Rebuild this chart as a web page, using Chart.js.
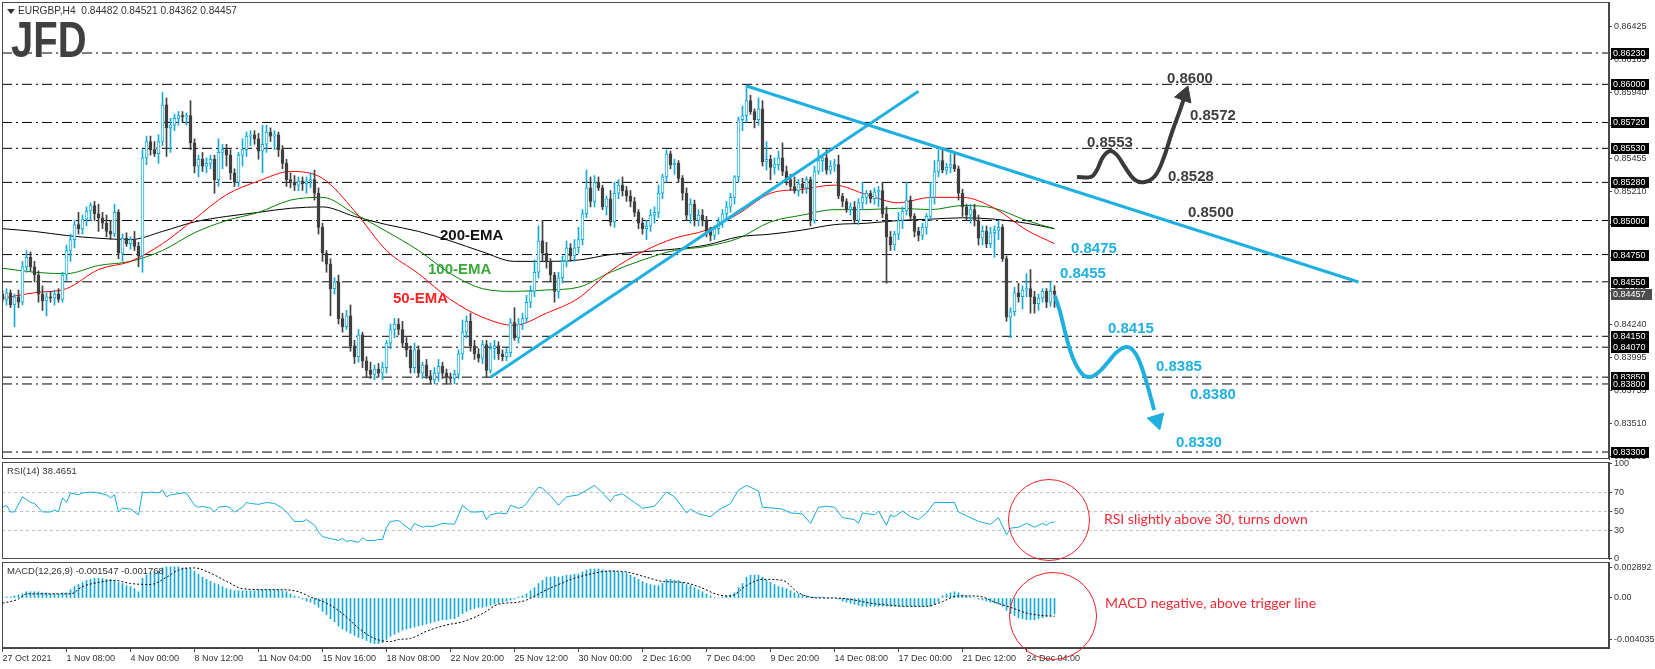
<!DOCTYPE html>
<html>
<head>
<meta charset="utf-8">
<title>EURGBP H4</title>
<script src="https://cdn.jsdelivr.net/npm/chart.js"></script>
<style>
  html, body { margin: 0; padding: 0; background: #fff; }
  body { width: 1655px; height: 669px; position: relative; overflow: hidden; font-family: 'Liberation Sans', Arial, sans-serif; }
  canvas { position: absolute; left: 0; }
  .t { position: absolute; white-space: nowrap; line-height: 18px; }
  .lvl { font: bold 15px 'Liberation Sans', Arial, sans-serif; }
  .dark { color: #3f3f3f; }
  .blue { color: #1fb0e0; }
  .note { font: 14px Lato, sans-serif; color: #ee2a35; }
  .ring { position: absolute; border: 1px solid #e8202a; border-radius: 50%; }
  .small { position: absolute; white-space: nowrap; font: 9.5px 'Liberation Sans', Arial, sans-serif; color: #333; line-height: 12px; }
</style>
</head>
<body>
<canvas id="mainChart" width="1655" height="461" style="top:0;width:1655px;height:461px"></canvas>
<canvas id="rsiChart" width="1655" height="114" style="top:452px;width:1655px;height:114px"></canvas>
<canvas id="macdChart" width="1655" height="109" style="top:560px;width:1655px;height:109px"></canvas>

<div style="position:absolute;left:7px;top:9px;width:0;height:0;border-left:4px solid transparent;border-right:4px solid transparent;border-top:5px solid #333"></div>
<div class="small" style="left:18px;top:5px;font-size:10.2px">EURGBP,H4&nbsp; 0.84482 0.84521 0.84362 0.84457</div>
<div class="t" style="left:11px;top:15px;font:bold 50px 'Liberation Sans',Arial,sans-serif;line-height:50px;color:#404040;transform:scaleX(0.8);transform-origin:left top">JFD</div>
<div class="small" style="left:7px;top:465px">RSI(14) 38.4651</div>
<div class="small" style="left:7px;top:565px">MACD(12,26,9) -0.001547 -0.001768</div>

<div class="t lvl" style="left:440px;top:226px;color:#111">200-EMA</div>
<div class="t lvl" style="left:428px;top:260px;color:#3aa83a">100-EMA</div>
<div class="t lvl" style="left:393px;top:289px;color:#ff2222">50-EMA</div>

<div class="t lvl dark" style="left:1167px;top:69px">0.8600</div>
<div class="t lvl dark" style="left:1190px;top:106px">0.8572</div>
<div class="t lvl dark" style="left:1087px;top:133px">0.8553</div>
<div class="t lvl dark" style="left:1168px;top:167px">0.8528</div>
<div class="t lvl dark" style="left:1188px;top:203px">0.8500</div>
<div class="t lvl blue" style="left:1071px;top:239px">0.8475</div>
<div class="t lvl blue" style="left:1060px;top:264px">0.8455</div>
<div class="t lvl blue" style="left:1108px;top:319px">0.8415</div>
<div class="t lvl blue" style="left:1156px;top:357px">0.8385</div>
<div class="t lvl blue" style="left:1190px;top:385px">0.8380</div>
<div class="t lvl blue" style="left:1176px;top:433px">0.8330</div>

<div class="ring" style="left:1008px;top:479px;width:80px;height:80px"></div>
<div class="ring" style="left:1009px;top:572px;width:86px;height:86px"></div>
<div class="t note" style="left:1104px;top:510px">RSI slightly above 30, turns down</div>
<div class="t note" style="left:1105px;top:594px">MACD negative, above trigger line</div>

<script>
// ---- candles (EURGBP H4), one entry per bar ----
const open = [
  0.8446,0.8442,0.8447,0.8438,0.8444,0.8440,0.8466,0.8473,0.8466,0.8460,
  0.8446,0.8441,0.8444,0.8443,0.8446,0.8442,0.8460,0.8478,0.8486,0.8497,
  0.8494,0.8501,0.8507,0.8511,0.8505,0.8502,0.8498,0.8492,0.8490,0.8506,
  0.8476,0.8487,0.8483,0.8486,0.8481,0.8474,0.8546,0.8558,0.8552,0.8549,
  0.8558,0.8585,0.8568,0.8570,0.8575,0.8577,0.8576,0.8577,0.8557,0.8540,
  0.8545,0.8540,0.8542,0.8545,0.8530,0.8550,0.8552,0.8548,0.8535,0.8528,
  0.8548,0.8552,0.8562,0.8563,0.8560,0.8551,0.8556,0.8565,0.8562,0.8563,
  0.8552,0.8542,0.8530,0.8528,0.8526,0.8529,0.8527,0.8529,0.8530,0.8520,
  0.8495,0.8476,0.8468,0.8450,0.8455,0.8428,0.8422,0.8430,0.8408,0.8400,
  0.8416,0.8397,0.8390,0.8387,0.8391,0.8388,0.8392,0.8410,0.8420,0.8424,
  0.8420,0.8410,0.8405,0.8392,0.8405,0.8388,0.8394,0.8386,0.8383,0.8388,
  0.8393,0.8388,0.8385,0.8384,0.8387,0.8402,0.8418,0.8426,0.8408,0.8402,
  0.8399,0.8409,0.8390,0.8406,0.8408,0.8402,0.8400,0.8403,0.8425,0.8414,
  0.8424,0.8428,0.8440,0.8448,0.8462,0.8485,0.8476,0.8470,0.8460,0.8448,
  0.8458,0.8470,0.8480,0.8474,0.8480,0.8486,0.8505,0.8524,0.8514,0.8528,
  0.8524,0.8510,0.8516,0.8499,0.8520,0.8526,0.8522,0.8518,0.8514,0.8506,
  0.8498,0.8494,0.8496,0.8504,0.8506,0.8520,0.8532,0.8549,0.8541,0.8542,
  0.8531,0.8520,0.8504,0.8512,0.8500,0.8504,0.8500,0.8492,0.8489,0.8494,
  0.8499,0.8505,0.8510,0.8517,0.8532,0.8574,0.8577,0.8588,0.8580,0.8574,
  0.8582,0.8543,0.8545,0.8539,0.8541,0.8546,0.8536,0.8530,0.8525,0.8522,
  0.8527,0.8524,0.8530,0.8500,0.8536,0.8544,0.8546,0.8537,0.8540,0.8541,
  0.8518,0.8514,0.8508,0.8510,0.8500,0.8513,0.8517,0.8520,0.8516,0.8521,
  0.8522,0.8505,0.8488,0.8482,0.8490,0.8500,0.8507,0.8515,0.8503,0.8492,
  0.8489,0.8495,0.8503,0.8517,0.8536,0.8544,0.8537,0.8539,0.8541,0.8538,
  0.8520,0.8510,0.8504,0.8508,0.8500,0.8487,0.8492,0.8483,0.8491,0.8493,
  0.8495,0.8472,0.8429,0.8433,0.8447,0.8444,0.8449,0.8450,0.8444,0.8439,
  0.8443,0.8448,0.8440,0.84482
];
const high = [
  0.8449,0.8450,0.8449,0.8446,0.8449,0.8470,0.8478,0.8477,0.8470,0.8463,
  0.8452,0.8447,0.8448,0.8449,0.8450,0.8462,0.8482,0.8490,0.8500,0.8506,
  0.8504,0.8510,0.8513,0.8514,0.8512,0.8506,0.8504,0.8500,0.8512,0.8508,
  0.8490,0.8491,0.8488,0.8492,0.8484,0.8552,0.8562,0.8562,0.8558,0.8563,
  0.8594,0.8590,0.8575,0.8578,0.8580,0.8580,0.8579,0.8588,0.8560,0.8548,
  0.8550,0.8546,0.8548,0.8548,0.8560,0.8556,0.8556,0.8552,0.8538,0.8550,
  0.8560,0.8565,0.8566,0.8566,0.8564,0.8570,0.8570,0.8568,0.8566,0.8565,
  0.8555,0.8545,0.8535,0.8533,0.8532,0.8532,0.8532,0.8535,0.8537,0.8524,
  0.8498,0.8478,0.8472,0.8458,0.8460,0.8432,0.8434,0.8438,0.8412,0.8420,
  0.8418,0.8400,0.8396,0.8394,0.8395,0.8396,0.8412,0.8424,0.8428,0.8428,
  0.8426,0.8414,0.8408,0.8410,0.8408,0.8396,0.8398,0.8390,0.8392,0.8398,
  0.8396,0.8391,0.8388,0.8390,0.8405,0.8427,0.8430,0.8432,0.8412,0.8406,
  0.8412,0.8412,0.8410,0.8412,0.8411,0.8405,0.8406,0.8428,0.8436,0.8428,
  0.8432,0.8445,0.8452,0.8471,0.8496,0.8500,0.8484,0.8472,0.8462,0.8462,
  0.8474,0.8485,0.8483,0.8486,0.8495,0.8508,0.8537,0.8532,0.8533,0.8532,
  0.8526,0.8518,0.8522,0.8528,0.8530,0.8532,0.8525,0.8522,0.8517,0.8508,
  0.8502,0.8500,0.8508,0.8510,0.8526,0.8534,0.8552,0.8551,0.8545,0.8544,
  0.8533,0.8524,0.8516,0.8515,0.8508,0.8508,0.8503,0.8495,0.8496,0.8502,
  0.8508,0.8514,0.8520,0.8533,0.8576,0.8584,0.8599,0.8592,0.8582,0.8590,
  0.8588,0.8558,0.8548,0.8546,0.8551,0.8557,0.8540,0.8534,0.8532,0.8530,
  0.8531,0.8532,0.8532,0.8540,0.8552,0.8548,0.8552,0.8544,0.8545,0.8548,
  0.8520,0.8516,0.8513,0.8514,0.8516,0.8528,0.8522,0.8522,0.8524,0.8525,
  0.8528,0.8510,0.8492,0.8492,0.8506,0.8510,0.8528,0.8518,0.8505,0.8495,
  0.8498,0.8505,0.8528,0.8544,0.8552,0.8552,0.8542,0.8549,0.8550,0.8540,
  0.8523,0.8512,0.8512,0.8512,0.8504,0.8496,0.8496,0.8495,0.8496,0.8500,
  0.8497,0.8474,0.8436,0.8451,0.8454,0.8452,0.8461,0.8464,0.8448,0.8446,
  0.8450,0.8450,0.8455,0.84521
];
const low = [
  0.8440,0.8438,0.8436,0.8422,0.8436,0.8438,0.8462,0.8463,0.8455,0.8440,
  0.8434,0.8430,0.8440,0.8438,0.8440,0.8440,0.8456,0.8470,0.8480,0.8490,
  0.8490,0.8496,0.8500,0.8500,0.8492,0.8494,0.8488,0.8486,0.8488,0.8472,
  0.8470,0.8481,0.8479,0.8478,0.8466,0.8462,0.8541,0.8548,0.8547,0.8542,
  0.8555,0.8547,0.8550,0.8566,0.8570,0.8572,0.8570,0.8552,0.8535,0.8532,
  0.8536,0.8535,0.8538,0.8520,0.8525,0.8538,0.8540,0.8530,0.8525,0.8525,
  0.8540,0.8547,0.8555,0.8556,0.8545,0.8535,0.8550,0.8558,0.8552,0.8547,
  0.8538,0.8525,0.8524,0.8522,0.8522,0.8522,0.8520,0.8524,0.8515,0.8490,
  0.8470,0.8462,0.8430,0.8446,0.8424,0.8418,0.8420,0.8404,0.8395,0.8396,
  0.8392,0.8385,0.8384,0.8383,0.8385,0.8383,0.8388,0.8406,0.8414,0.8416,
  0.8407,0.8400,0.8388,0.8388,0.8385,0.8384,0.8384,0.8380,0.8380,0.8382,
  0.8384,0.8380,0.8381,0.8380,0.8384,0.8398,0.8414,0.8404,0.8398,0.8396,
  0.8395,0.8385,0.8388,0.8398,0.8398,0.8397,0.8397,0.8400,0.8412,0.8410,
  0.8420,0.8425,0.8436,0.8444,0.8458,0.8470,0.8465,0.8455,0.8440,0.8443,
  0.8454,0.8466,0.8470,0.8470,0.8476,0.8482,0.8502,0.8510,0.8510,0.8522,
  0.8508,0.8504,0.8496,0.8495,0.8516,0.8518,0.8514,0.8510,0.8503,0.8494,
  0.8490,0.8486,0.8492,0.8498,0.8502,0.8516,0.8528,0.8538,0.8534,0.8528,
  0.8515,0.8500,0.8498,0.8496,0.8496,0.8496,0.8488,0.8485,0.8486,0.8490,
  0.8495,0.8500,0.8506,0.8512,0.8528,0.8566,0.8572,0.8578,0.8568,0.8570,
  0.8540,0.8537,0.8530,0.8534,0.8537,0.8533,0.8526,0.8522,0.8520,0.8518,
  0.8520,0.8520,0.8496,0.8498,0.8534,0.8536,0.8534,0.8534,0.8536,0.8516,
  0.8510,0.8506,0.8504,0.8498,0.8497,0.8508,0.8512,0.8513,0.8512,0.8510,
  0.8502,0.8454,0.8478,0.8478,0.8486,0.8494,0.8504,0.8500,0.8488,0.8485,
  0.8486,0.8490,0.8500,0.8512,0.8532,0.8535,0.8534,0.8535,0.8536,0.8515,
  0.8503,0.8500,0.8498,0.8496,0.8482,0.8482,0.8480,0.8480,0.8473,0.8486,
  0.8470,0.8426,0.8414,0.8430,0.8440,0.8435,0.8444,0.8432,0.8432,0.8434,
  0.8440,0.8436,0.8437,0.84362
];
const close = [
  0.8442,0.8447,0.8438,0.8444,0.8440,0.8466,0.8473,0.8466,0.8460,0.8446,
  0.8441,0.8444,0.8443,0.8446,0.8442,0.8460,0.8478,0.8486,0.8497,0.8494,
  0.8501,0.8507,0.8511,0.8505,0.8502,0.8498,0.8492,0.8490,0.8506,0.8476,
  0.8487,0.8483,0.8486,0.8481,0.8474,0.8546,0.8558,0.8552,0.8549,0.8558,
  0.8585,0.8568,0.8570,0.8575,0.8577,0.8576,0.8577,0.8557,0.8540,0.8545,
  0.8540,0.8542,0.8545,0.8530,0.8550,0.8552,0.8548,0.8535,0.8528,0.8548,
  0.8552,0.8562,0.8563,0.8560,0.8551,0.8556,0.8565,0.8562,0.8563,0.8552,
  0.8542,0.8530,0.8528,0.8526,0.8529,0.8527,0.8529,0.8530,0.8520,0.8495,
  0.8476,0.8468,0.8450,0.8455,0.8428,0.8422,0.8430,0.8408,0.8400,0.8416,
  0.8397,0.8390,0.8387,0.8391,0.8388,0.8392,0.8410,0.8420,0.8424,0.8420,
  0.8410,0.8405,0.8392,0.8405,0.8388,0.8394,0.8386,0.8383,0.8388,0.8393,
  0.8388,0.8385,0.8384,0.8387,0.8402,0.8418,0.8426,0.8408,0.8402,0.8399,
  0.8409,0.8390,0.8406,0.8408,0.8402,0.8400,0.8403,0.8425,0.8414,0.8424,
  0.8428,0.8440,0.8448,0.8462,0.8485,0.8476,0.8470,0.8460,0.8448,0.8458,
  0.8470,0.8480,0.8474,0.8480,0.8486,0.8505,0.8524,0.8514,0.8528,0.8524,
  0.8510,0.8516,0.8499,0.8520,0.8526,0.8522,0.8518,0.8514,0.8506,0.8498,
  0.8494,0.8496,0.8504,0.8506,0.8520,0.8532,0.8549,0.8541,0.8542,0.8531,
  0.8520,0.8504,0.8512,0.8500,0.8504,0.8500,0.8492,0.8489,0.8494,0.8499,
  0.8505,0.8510,0.8517,0.8532,0.8574,0.8577,0.8588,0.8580,0.8574,0.8582,
  0.8543,0.8545,0.8539,0.8541,0.8546,0.8536,0.8530,0.8525,0.8522,0.8527,
  0.8524,0.8530,0.8500,0.8536,0.8544,0.8546,0.8537,0.8540,0.8541,0.8518,
  0.8514,0.8508,0.8510,0.8500,0.8513,0.8517,0.8520,0.8516,0.8521,0.8522,
  0.8505,0.8488,0.8482,0.8490,0.8500,0.8507,0.8515,0.8503,0.8492,0.8489,
  0.8495,0.8503,0.8517,0.8536,0.8544,0.8537,0.8539,0.8541,0.8538,0.8520,
  0.8510,0.8504,0.8508,0.8500,0.8487,0.8492,0.8483,0.8491,0.8493,0.8495,
  0.8472,0.8429,0.8433,0.8447,0.8444,0.8449,0.8450,0.8444,0.8439,0.8443,
  0.8448,0.8440,0.8448,0.84457
];

// ---- moving averages, read at every 8th bar ----
const emaIdx = [0,8,16,24,32,40,48,56,64,72,80,88,96,104,112,120,128,136,144,152,160,168,176,184,192,200,208,216,224,232,240,248,256,263];
const ema50  = [0.8443,0.8447,0.8450,0.8464,0.8470,0.8483,0.8501,0.8519,0.8529,0.8536,0.8531,0.8507,0.8478,0.8461,0.8442,0.8429,0.8423,0.8432,0.8443,0.8463,0.8477,0.8487,0.8493,0.8505,0.8520,0.8523,0.8526,0.8519,0.8513,0.8517,0.8517,0.8509,0.8493,0.8483];
const ema100 = [0.8465,0.8462,0.8461,0.8467,0.8470,0.8478,0.8491,0.8500,0.8506,0.8515,0.8517,0.8505,0.8492,0.8478,0.8461,0.8450,0.8448,0.8449,0.8451,0.8462,0.8471,0.8478,0.8481,0.8487,0.8499,0.8504,0.8508,0.8508,0.8509,0.8508,0.8511,0.8509,0.8500,0.8494];
const ema200 = [0.8494,0.8492,0.8489,0.8487,0.8486,0.8492,0.8499,0.8503,0.8506,0.8509,0.8510,0.8503,0.8497,0.8492,0.8485,0.8477,0.8470,0.8470,0.8471,0.8475,0.8477,0.8479,0.8482,0.8488,0.8490,0.8493,0.8497,0.8498,0.8500,0.8501,0.8502,0.8501,0.8498,0.8494];

// ---- horizontal levels and price axis ----
const levels = [0.8623,0.8600,0.8572,0.8553,0.8528,0.8500,0.8475,0.8455,0.8415,0.8407,0.8385,0.8380,0.8330];
const priceTicks = [0.86425,0.86185,0.85940,0.85695,0.85455,0.85210,0.84970,0.84725,0.84480,0.84240,0.83995,0.83755,0.83510,0.83265];
const lastPrice = 0.84457;

// ---- trend lines [barIndex, price] ----
const downTrend = [[186, 0.85988], [339, 0.84549]];
const upTrend   = [[122, 0.83850], [229, 0.85950]];

// ---- scenario paths [barIndex, price] ----
const bullPath = [[268.6,0.85320],[272.1,0.85320],[273.6,0.85371],[275.1,0.85466],[276.9,0.85511],[278.6,0.85481],[280.6,0.85393],[283.1,0.85298],[285.6,0.85283],[288.1,0.85327],[290.1,0.85444],[292.4,0.85650],[294.4,0.85812],[295.4,0.85900]];
const bullHead = [295.5, 0.85919, 20];
const bearPath = [[263.1,0.84446],[264.4,0.84328],[265.9,0.84152],[267.6,0.83991],[269.9,0.83873],[271.9,0.83851],[274.1,0.83888],[276.4,0.83961],[278.6,0.84035],[280.9,0.84071],[282.6,0.84049],[284.1,0.83976],[285.6,0.83851],[286.9,0.83719],[287.9,0.83609]];
const bearHead = [288.6, 0.83533, 163];

// ---- RSI(14) ----
const rsiIdx = [
  0,1,2,3,5,6,7,8,10,12, 13,14,15,16,17,19,20,22,24,26,
  27,28,29,30,32,33,34,35,36,37, 39,40,41,42,45,46,48,49,50,52,
  53,54,56,57,58,60,61,62,64,66, 68,70,71,72,73,75,76,78,79,80,
  82,84,85,86,87,89,90,91,93,94, 95,96,97,99,102,103,105,106,108,110,
  113,115,117,119,120,121,122,124,126,127, 129,130,131,132,134,135,137,139,141,144,
  146,148,150,152,153,155,158,160,163,166, 168,171,172,174,177,179,182,184,186,189,
  190,193,195,197,200,202,204,206,208,210, 213,214,215,218,219,221,222,223,225,227,
  229,231,233,235,238,239,241,244,247,249, 251,252,254,256,258,260,261,262,263
];
const rsiVal = [
  54,56,49,49,65,62,59,58,49,49, 51,49,64,59,69,67,69,70,69,67,
  64,67,49,53,52,49,46,70,69,70, 69,72,65,67,69,69,56,54,55,53,
  49,54,55,53,49,54,59,58,57,59, 58,53,49,44,39,39,41,35,28,23,
  21,19,21,18,19,17,22,19,19,20, 20,33,39,40,30,37,33,34,34,37,
  36,56,49,49,50,41,46,48,47,56, 53,54,58,64,75,74,66,56,65,67,
  72,77,69,60,66,68,59,53,55,70, 65,48,52,47,44,51,58,72,77,71,
  54,53,52,48,47,37,54,55,54,43, 41,37,48,46,50,35,46,44,50,44,
  41,48,59,59,59,49,45,39,36,43, 25,32,33,37,33,37,35,38,38.4651
];
const rsiTicks = [100, 70, 50, 30, 0];
const rsiLevels = [70, 50, 30];

// ---- MACD(12,26,9): main (histogram, one per bar) and signal ----
const macdMain = [
  0.0001,0.0001,0.0001,0.0002,0.0003,0.0004,0.0006,0.0006,0.0006,0.0006,
  0.0005,0.0005,0.0004,0.0004,0.0004,0.0005,0.0005,0.0008,0.0011,0.0013,
  0.0015,0.0017,0.0018,0.0019,0.0019,0.0019,0.0018,0.0018,0.0017,0.0015,
  0.0014,0.0012,0.0011,0.0009,0.0006,0.0019,0.0022,0.0024,0.0025,0.0026,
  0.0029,0.0030,0.0030,0.0030,0.0030,0.0029,0.0029,0.0028,0.0026,0.0023,
  0.0020,0.0018,0.0016,0.0014,0.0013,0.0011,0.0009,0.0008,0.0007,0.0007,
  0.0007,0.0007,0.0007,0.0007,0.0008,0.0008,0.0008,0.0008,0.0008,0.0008,
  0.0007,0.0006,0.0004,0.0002,0.0001,-0.0001,-0.0003,-0.0004,-0.0006,-0.0009,
  -0.0013,-0.0016,-0.0020,-0.0023,-0.0027,-0.0030,-0.0032,-0.0034,-0.0036,-0.0038,
  -0.0039,-0.0041,-0.0043,-0.0044,-0.0044,-0.0043,-0.0040,-0.0037,-0.0035,-0.0033,
  -0.0031,-0.0030,-0.0029,-0.0028,-0.0027,-0.0026,-0.0025,-0.0024,-0.0023,-0.0022,
  -0.0021,-0.0021,-0.0020,-0.0020,-0.0018,-0.0015,-0.0013,-0.0011,-0.0010,-0.0009,
  -0.0009,-0.0008,-0.0007,-0.0006,-0.0005,-0.0004,-0.0003,-0.0002,-0.0001,0.0001,
  0.0002,0.0004,0.0007,0.0010,0.0014,0.0017,0.0020,0.0020,0.0021,0.0020,
  0.0021,0.0022,0.0022,0.0023,0.0023,0.0025,0.0027,0.0028,0.0028,0.0028,
  0.0027,0.0026,0.0026,0.0026,0.0025,0.0025,0.0024,0.0022,0.0020,0.0018,
  0.0016,0.0014,0.0013,0.0012,0.0012,0.0014,0.0018,0.0018,0.0017,0.0017,
  0.0015,0.0013,0.0012,0.0010,0.0008,0.0006,0.0004,0.0002,0.0000,0.0000,
  0.0001,0.0002,0.0003,0.0005,0.0010,0.0014,0.0020,0.0022,0.0022,0.0022,
  0.0020,0.0017,0.0015,0.0013,0.0011,0.0010,0.0009,0.0007,0.0005,0.0004,
  0.0003,0.0002,0.0001,0.0001,0.0001,0.0001,0.0000,0.0000,0.0000,-0.0001,
  -0.0003,-0.0004,-0.0005,-0.0006,-0.0007,-0.0008,-0.0008,-0.0008,-0.0008,-0.0008,
  -0.0008,-0.0008,-0.0008,-0.0008,-0.0008,-0.0008,-0.0008,-0.0008,-0.0008,-0.0008,
  -0.0008,-0.0008,-0.0008,-0.0006,-0.0004,0.0002,0.0004,0.0005,0.0006,0.0005,
  0.0003,0.0002,0.0001,0.0000,-0.0001,-0.0002,-0.0003,-0.0004,-0.0005,-0.0006,
  -0.0008,-0.0012,-0.0015,-0.0017,-0.0019,-0.0020,-0.0021,-0.0021,-0.0021,-0.0020,
  -0.0019,-0.0018,-0.0017,-0.001547
];
const macdSigIdx = [
  0,4,6,12,17,20,24,28,32,37, 41,44,48,52,56,60,66,70,74,77,
  81,85,89,93,97,99,102,106,111,115, 120,124,129,131,135,139,143,148,152,156,
  161,165,170,174,179,182,186,190,195,199, 204,208,213,217,222,226,231,234,239,242,
  245,248,252,256,259,263
];
const macdSigVal = [
  -0.0005,-0.0001,0.0004,0.0004,0.0004,0.0011,0.0015,0.0017,0.0014,0.0013,
  0.0020,0.0027,0.0029,0.0024,0.0016,0.0009,0.0008,0.0008,0.0006,0.0001,
  -0.0005,-0.0015,-0.0029,-0.0039,-0.0042,-0.0040,-0.0039,-0.0032,-0.0026,-0.0023,
  -0.0015,-0.0006,-0.0004,-0.0002,0.0006,0.0013,0.0019,0.0024,0.0026,0.0025,
  0.0020,0.0016,0.0015,0.0011,0.0003,0.0002,0.0012,0.0018,0.0017,0.0005,
  0.0000,0.0000,-0.0002,-0.0005,-0.0007,-0.0008,-0.0008,-0.0005,0.0002,0.0002,
  0.0001,-0.0004,-0.0009,-0.00145,-0.00165,-0.001768
];
const macdTicks = [0.002892, 0, -0.004035];
const macdTickLabels = ['0.002892', '0.00', '-0.004035'];

// ---- time axis ----
const xTickIdx = [0,16,32,48,64,80,96,112,128,144,160,176,192,208,224,240,256];
const xTickLabels = ['27 Oct 2021','1 Nov 08:00','4 Nov 00:00','8 Nov 12:00','11 Nov 04:00','15 Nov 16:00','18 Nov 08:00','22 Nov 20:00','25 Nov 12:00','30 Nov 00:00','2 Dec 16:00','7 Dec 04:00','9 Dec 20:00','14 Dec 08:00','17 Dec 00:00','21 Dec 12:00','24 Dec 04:00'];
</script>

<script>
const BLUE = '#14aad9', DARK = '#404040', TREND = '#1fb0e0';
const X_MIN = -0.125, X_MAX = 401.625;
const AXIS_FONT = { family: "'Liberation Sans', Arial, sans-serif", size: 9 };

Chart.defaults.font.family = "'Liberation Sans', Arial, sans-serif";

const bars = open.map((o, i) => i);
const isUp = bars.map(i => close[i] >= open[i]);

function xAxis(show) {
  return { type: 'linear', min: X_MIN, max: X_MAX, offset: false, display: show, grid: { offset: false } };
}
function rightAxis(extra) {
  return Object.assign({
    position: 'right',
    afterFit: s => { s.width = 46; s.paddingTop = 0; s.paddingBottom = 0; },
    ticks: { color: '#333', font: AXIS_FONT, padding: 2, autoSkip: false },
    grid: { drawOnChartArea: false, tickLength: 3, color: '#444' },
    border: { color: '#444' }
  }, extra);
}
const pts = arr => arr.map(p => ({ x: p[0], y: p[1] }));

const frame = {
  id: 'frame',
  afterDraw(c) {
    const { ctx, chartArea: a } = c;
    ctx.save();
    ctx.strokeStyle = '#4a4a4a';
    ctx.lineWidth = 1;
    ctx.strokeRect(Math.round(a.left) + 0.5, Math.round(a.top) + 0.5, Math.round(a.right - a.left) - 1, Math.round(a.bottom - a.top) - 1);
    ctx.restore();
  }
};

const levelTags = {
  id: 'levelTags',
  afterDraw(c) {
    const y = c.scales.y, ctx = c.ctx;
    ctx.save();
    ctx.font = "9px 'Liberation Sans', Arial, sans-serif";
    ctx.textBaseline = 'middle';
    levels.forEach(v => {
      const py = Math.round(y.getPixelForValue(v));
      ctx.fillStyle = '#000';
      ctx.fillRect(1611, py - 5, 38, 11);
      ctx.fillStyle = '#fff';
      ctx.fillText(v.toFixed(5), 1613, py + 0.5);
    });
    const pp = Math.round(y.getPixelForValue(lastPrice));
    ctx.fillStyle = '#4d4d4d';
    ctx.fillRect(1611, pp - 5, 41, 11);
    ctx.fillStyle = '#fff';
    ctx.fillText(lastPrice.toFixed(5), 1613, pp + 0.5);
    ctx.restore();
  }
};

const levelData = levels.map(v => ({
  type: 'line', data: [{ x: X_MIN, y: v }, { x: X_MAX, y: v }],
  borderColor: '#000', borderWidth: 1, borderDash: [10, 4, 2, 4],
  pointRadius: 0, order: 20
}));

new Chart(document.getElementById('mainChart'), {
  type: 'bar',
  data: {
    datasets: [
      ...levelData,
      { type: 'line', data: emaIdx.map((x, k) => ({ x, y: ema200[k] })), borderColor: '#000', borderWidth: 1, pointRadius: 0, cubicInterpolationMode: 'monotone', order: 12 },
      { type: 'line', data: emaIdx.map((x, k) => ({ x, y: ema100[k] })), borderColor: '#008000', borderWidth: 1, pointRadius: 0, cubicInterpolationMode: 'monotone', order: 11 },
      { type: 'line', data: emaIdx.map((x, k) => ({ x, y: ema50[k] })), borderColor: '#ff0000', borderWidth: 1, pointRadius: 0, cubicInterpolationMode: 'monotone', order: 10 },
      { data: bars.map(i => ({ x: i, y: [low[i], high[i]] })), backgroundColor: bars.map(i => isUp[i] ? BLUE : DARK),
        barThickness: 1, grouped: false, order: 6 },
      { data: bars.map(i => ({ x: i, y: [open[i], close[i]] })), backgroundColor: bars.map(i => isUp[i] ? '#fff' : DARK),
        borderColor: bars.map(i => isUp[i] ? BLUE : DARK), borderWidth: 1, borderSkipped: false, minBarLength: 1,
        barThickness: 3, grouped: false, order: 5 },
      { type: 'line', data: pts(downTrend), borderColor: TREND, borderWidth: 3, pointRadius: 0, order: 3 },
      { type: 'line', data: pts(upTrend), borderColor: TREND, borderWidth: 3, pointRadius: 0, order: 3 },
      { type: 'line', data: pts(bullPath), borderColor: '#3a3a3a', borderWidth: 4, pointRadius: 0, tension: 0.4, order: 2 },
      { type: 'scatter', data: [{ x: bullHead[0], y: bullHead[1] }], pointStyle: 'triangle', rotation: bullHead[2], radius: 10,
        backgroundColor: '#3a3a3a', borderColor: '#3a3a3a', order: 1 },
      { type: 'line', data: pts(bearPath), borderColor: TREND, borderWidth: 4, pointRadius: 0, tension: 0.4, order: 2 },
      { type: 'scatter', data: [{ x: bearHead[0], y: bearHead[1] }], pointStyle: 'triangle', rotation: bearHead[2], radius: 10,
        backgroundColor: TREND, borderColor: TREND, order: 1 }
    ]
  },
  options: {
    responsive: false, animation: false, events: [], devicePixelRatio: 1,
    layout: { padding: { left: 2, top: 2, right: 0, bottom: 2 }, autoPadding: false },
    plugins: { legend: { display: false }, tooltip: { enabled: false } },
    scales: {
      x: xAxis(false),
      y: rightAxis({
        min: 0.83249, max: 0.866045,
        afterBuildTicks: s => { s.ticks = priceTicks.map(v => ({ value: v })); },
        ticks: { color: '#333', font: AXIS_FONT, padding: 2, autoSkip: false, callback: v => Number(v).toFixed(5) }
      })
    }
  },
  plugins: [frame, levelTags]
});

const rsiGuides = {
  id: 'rsiGuides',
  beforeDatasetsDraw(c) {
    const { ctx, chartArea: a } = c, y = c.scales.y;
    ctx.save();
    ctx.strokeStyle = '#c0c0c0';
    ctx.lineWidth = 1;
    ctx.setLineDash([3, 3]);
    rsiLevels.forEach(v => {
      const py = Math.round(y.getPixelForValue(v)) + 0.5;
      ctx.beginPath(); ctx.moveTo(a.left, py); ctx.lineTo(a.right, py); ctx.stroke();
    });
    ctx.restore();
  }
};

new Chart(document.getElementById('rsiChart'), {
  type: 'line',
  data: {
    datasets: [{ data: rsiIdx.map((x, k) => ({ x, y: rsiVal[k] })), borderColor: BLUE, borderWidth: 1, pointRadius: 0, tension: 0 }]
  },
  options: {
    responsive: false, animation: false, events: [], devicePixelRatio: 1,
    layout: { padding: { left: 2, top: 10, right: 0, bottom: 7 }, autoPadding: false },
    plugins: { legend: { display: false }, tooltip: { enabled: false } },
    scales: {
      x: xAxis(false),
      y: rightAxis({
        min: -0.5, max: 101.6,
        afterBuildTicks: s => { s.ticks = rsiTicks.map(v => ({ value: v })); }
      })
    }
  },
  plugins: [rsiGuides, frame]
});

new Chart(document.getElementById('macdChart'), {
  type: 'bar',
  data: {
    datasets: [
      { type: 'line', data: macdSigIdx.map((x, k) => ({ x, y: macdSigVal[k] })), borderColor: '#000', borderWidth: 1,
        borderDash: [2, 2], pointRadius: 0, cubicInterpolationMode: 'monotone', order: 1 },
      { data: bars.map(i => ({ x: i, y: macdMain[i] })), backgroundColor: BLUE, barThickness: 1, grouped: false, order: 2 }
    ]
  },
  options: {
    responsive: false, animation: false, events: [], devicePixelRatio: 1,
    layout: { padding: { left: 2, top: 2, right: 0, bottom: 1 }, autoPadding: false },
    plugins: { legend: { display: false }, tooltip: { enabled: false } },
    scales: {
      x: Object.assign(xAxis(true), {
        position: 'bottom',
        afterBuildTicks: s => { s.ticks = xTickIdx.map(v => ({ value: v })); },
        afterFit: s => { s.height = 20; s.paddingLeft = 0; s.paddingRight = 0; },
        ticks: { align: 'start', maxRotation: 0, autoSkip: false, padding: 1, color: '#333', font: AXIS_FONT,
          callback: (v, k) => xTickLabels[k] },
        grid: { offset: false, drawOnChartArea: false, tickLength: 4, color: '#444' },
        border: { color: '#444' }
      }),
      y: rightAxis({
        min: -0.00482, max: 0.00347,
        afterBuildTicks: s => { s.ticks = macdTicks.map(v => ({ value: v })); },
        ticks: { color: '#333', font: AXIS_FONT, padding: 2, autoSkip: false, callback: (v, k) => macdTickLabels[k] }
      })
    }
  },
  plugins: [frame]
});
</script>
</body>
</html>
